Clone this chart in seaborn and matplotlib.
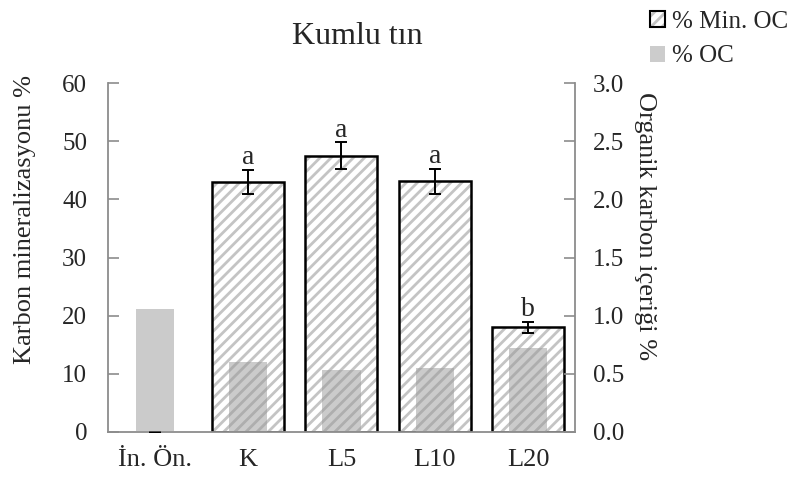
import matplotlib
matplotlib.use("Agg")
import matplotlib.pyplot as plt
from matplotlib.patches import Patch
import numpy as np
import pandas as pd
import seaborn as sns

# Treatments and measured values
categories = ["İn. Ön.", "K", "L5", "L10", "L20"]
min_oc = [np.nan, 43.0, 47.5, 43.1, 18.0]        # % Min. OC (left axis)
min_oc_err = [0.0, 2.1, 2.3, 2.2, 0.9]
letters = ["", "a", "a", "a", "b"]
oc = [1.06, 0.60, 0.53, 0.55, 0.72]               # % OC (right axis)

df = pd.DataFrame({"grup": categories, "min_oc": min_oc, "oc": oc})

sns.set_style("white")
plt.rcParams["font.family"] = ["Liberation Serif", "DejaVu Serif"]
plt.rcParams["hatch.linewidth"] = 2.0

SPINE = "#8c8c8c"
HATCH = "#c4c4c4"

fig = plt.figure(figsize=(7.94, 4.8), dpi=100)
ax = fig.add_axes([0.136, 0.1, 0.588, 0.727])

# hatched fill of mineralisation bars
n0 = len(ax.patches)
sns.barplot(data=df, x="grup", y="min_oc", ax=ax, color="white",
            saturation=1, width=0.77, errorbar=None)
for p in ax.patches[n0:]:
    p.set_facecolor("white")
    p.set_hatch("///")
    p.set_edgecolor(HATCH)
    p.set_linewidth(0)

# black outlines on top of the hatching
n1 = len(ax.patches)
sns.barplot(data=df, x="grup", y="min_oc", ax=ax, color="white",
            saturation=1, width=0.77, errorbar=None)
for p in ax.patches[n1:]:
    p.set_facecolor("none")
    p.set_edgecolor("black")
    p.set_linewidth(1.8)

pos = np.arange(len(categories))
ax.errorbar(pos, np.nan_to_num(min_oc), yerr=min_oc_err, fmt="none",
            ecolor="black", elinewidth=1.4, capsize=4.5, capthick=1.4,
            zorder=5)
for i, (v, e, t) in enumerate(zip(min_oc, min_oc_err, letters)):
    if t:
        ax.text(i, v + e + 1.0, t, ha="center", va="baseline", fontsize=20)

ax.set_ylim(0, 60)
ax.set_yticks(range(0, 61, 10))
ax.set_xlabel("")
ax.set_ylabel("Karbon mineralizasyonu %", fontsize=19)
ax.yaxis.set_label_coords(-0.155, 0.61)

# organic carbon on the secondary axis
ax2 = ax.twinx()
sns.barplot(data=df, x="grup", y="oc", ax=ax2, color="#999999",
            saturation=1, width=0.41, errorbar=None, alpha=0.5)
for p in ax2.patches:
    p.set_linewidth(0)
ax2.set_ylim(0, 3.0)
ax2.set_yticks(np.arange(0, 3.01, 0.5))
ax2.set_yticklabels([f"{v:.1f}" for v in np.arange(0, 3.01, 0.5)])
ax2.set_ylabel("Organik karbon içeriği %", fontsize=19, rotation=-90,
               va="center")
ax2.yaxis.set_label_coords(1.15, 0.59)
ax2.set_xlabel("")

for a in (ax, ax2):
    a.spines["top"].set_visible(False)
    for s in ("left", "right", "bottom"):
        a.spines[s].set_color(SPINE)
        a.spines[s].set_linewidth(1.3)
    a.set_xlim(-0.5, len(categories) - 0.5)

ax.spines["right"].set_visible(False)
ax2.spines["left"].set_visible(False)
ax2.spines["bottom"].set_visible(False)

ax.tick_params(axis="y", direction="in", length=8, width=1.2, color=SPINE,
               labelsize=18, pad=15)
ax.tick_params(axis="x", length=0, labelsize=19, pad=12)
ax2.tick_params(axis="y", direction="in", length=8, width=1.2, color=SPINE,
                labelsize=18, pad=13)

fig.text(357 / 794, 1 - 37 / 480, "Kumlu tın", ha="center", va="center",
         fontsize=23)

handles = [
    (Patch(facecolor="white", edgecolor=HATCH, hatch="///", linewidth=0),
     Patch(facecolor="none", edgecolor="black", linewidth=1.5)),
    Patch(facecolor="#cccccc", edgecolor="none"),
]
fig.legend(handles=handles, labels=["% Min. OC", "% OC"], loc="upper left",
           bbox_to_anchor=(640 / 794, 1 - 1 / 480), frameon=False,
           fontsize=18, handlelength=0.6, handleheight=0.6,
           handletextpad=0.3, labelspacing=0.5, borderaxespad=0)

fig.savefig("out.png", dpi=100)
